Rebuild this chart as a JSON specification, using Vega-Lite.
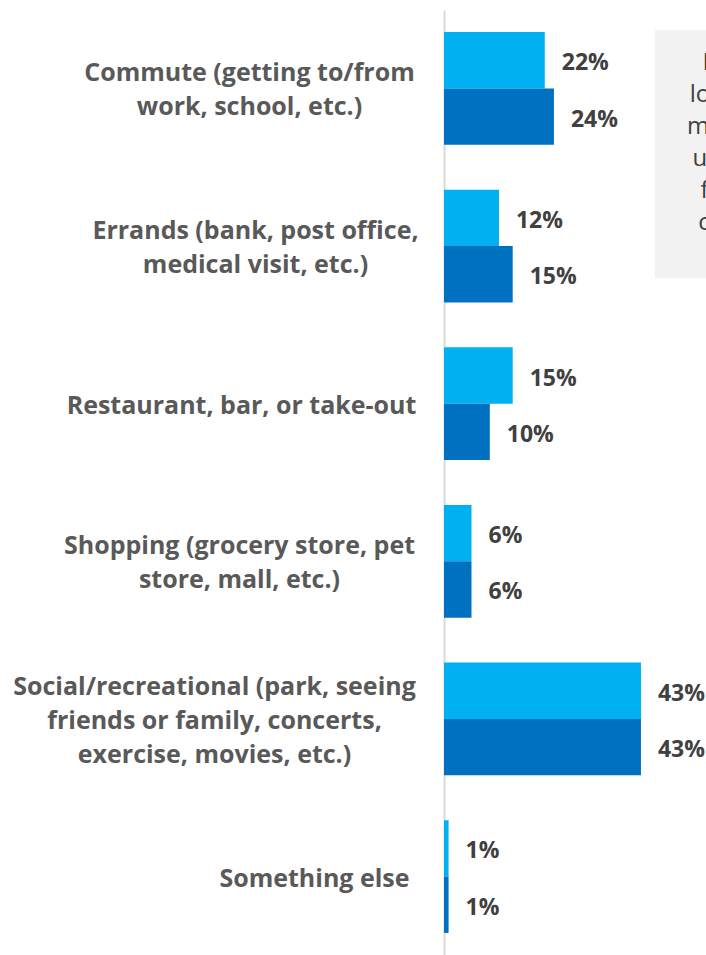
{
  "$schema": "https://vega.github.io/schema/vega-lite/v6.json",
  "width": 262,
  "height": 945,
  "autosize": "none",
  "padding": {"left": 444, "top": 10, "right": 0, "bottom": 0},
  "config": {"view": {"stroke": null}},
  "datasets": {
    "bars": [
      {"cat": "Commute (getting to/from|work, school, etc.)", "series": "Wave 1", "value": 0.22},
      {"cat": "Commute (getting to/from|work, school, etc.)", "series": "Wave 2", "value": 0.24},
      {"cat": "Errands (bank, post office,|medical visit, etc.)", "series": "Wave 1", "value": 0.12},
      {"cat": "Errands (bank, post office,|medical visit, etc.)", "series": "Wave 2", "value": 0.15},
      {"cat": "Restaurant, bar, or take-out", "series": "Wave 1", "value": 0.15},
      {"cat": "Restaurant, bar, or take-out", "series": "Wave 2", "value": 0.10},
      {"cat": "Shopping (grocery store, pet|store, mall, etc.)", "series": "Wave 1", "value": 0.06},
      {"cat": "Shopping (grocery store, pet|store, mall, etc.)", "series": "Wave 2", "value": 0.06},
      {"cat": "Social/recreational (park, seeing|friends or family, concerts,|exercise, movies, etc.)", "series": "Wave 1", "value": 0.43},
      {"cat": "Social/recreational (park, seeing|friends or family, concerts,|exercise, movies, etc.)", "series": "Wave 2", "value": 0.43},
      {"cat": "Something else", "series": "Wave 1", "value": 0.01},
      {"cat": "Something else", "series": "Wave 2", "value": 0.01}
    ],
    "note": [
      {"x": 0.4607, "x2": 0.95, "y": 0.0212, "y2": 0.2836, "tx": 0.646, "ty": 0.0561, "text": "In this,\nlocations\nmentions\nusage of\nfor any\nchoices"}
    ]
  },
  "layer": [
    {
      "data": {"name": "note"},
      "mark": {"type": "rect", "fill": "#F2F2F2"},
      "encoding": {
        "x": {"field": "x", "type": "quantitative", "scale": {"domain": [0, 0.572], "nice": false, "zero": true}, "axis": null},
        "x2": {"field": "x2"},
        "y": {"field": "y", "type": "quantitative", "scale": {"domain": [0, 1], "reverse": true, "nice": false}, "axis": null},
        "y2": {"field": "y2"}
      }
    },
    {
      "data": {"name": "note"},
      "mark": {"type": "text", "lineBreak": "\n", "font": "Open Sans", "fontSize": 24, "color": "#404040", "align": "center", "baseline": "middle", "lineHeight": 32},
      "encoding": {
        "x": {"field": "tx", "type": "quantitative", "scale": {"domain": [0, 0.572], "nice": false, "zero": true}, "axis": null},
        "y": {"field": "ty", "type": "quantitative", "scale": {"domain": [0, 1], "reverse": true, "nice": false}, "axis": null},
        "text": {"field": "text"}
      }
    },
    {
      "data": {"name": "bars"},
      "encoding": {
        "y": {
          "field": "cat",
          "type": "nominal",
          "sort": null,
          "title": null,
          "scale": {"paddingInner": 0.285, "paddingOuter": 0.14},
          "axis": {
            "labelExpr": "split(datum.label, '|')",
            "labelFont": "Open Sans",
            "labelFontWeight": "bold",
            "labelFontSize": 25,
            "labelColor": "#595959",
            "labelLineHeight": 34,
            "labelAlign": "center",
            "labelBaseline": "middle",
            "labelLimit": 0,
            "labelOverlap": false,
            "ticks": false,
            "tickSize": 0,
            "grid": false,
            "domainColor": "#D9D9D9",
            "domainWidth": 2,
            "labelPadding": {
              "condition": [
                {"test": "indexof(datum.value, 'Commute') === 0", "value": 195},
                {"test": "indexof(datum.value, 'Errands') === 0", "value": 189},
                {"test": "indexof(datum.value, 'Restaurant') === 0", "value": 203},
                {"test": "indexof(datum.value, 'Shopping') === 0", "value": 205},
                {"test": "indexof(datum.value, 'Social') === 0", "value": 230}
              ],
              "value": 130
            },
            "labelOffset": {
              "condition": [
                {"test": "indexof(datum.value, 'Social') === 0", "value": -32},
                {"test": "indexof(datum.value, '|') >= 0", "value": -15}
              ],
              "value": 2
            }
          }
        },
        "x": {"field": "value", "type": "quantitative", "scale": {"domain": [0, 0.572], "nice": false, "zero": true}, "axis": null},
        "yOffset": {"field": "series", "type": "nominal", "sort": ["Wave 1", "Wave 2"], "scale": {"paddingInner": 0, "paddingOuter": 0}}
      },
      "layer": [
        {
          "mark": {"type": "bar"},
          "encoding": {
            "color": {"field": "series", "type": "nominal", "scale": {"domain": ["Wave 1", "Wave 2"], "range": ["#00B0F0", "#0070C0"]}, "legend": null}
          }
        },
        {
          "mark": {"type": "text", "align": "left", "baseline": "middle", "dx": 17, "dy": 3, "font": "Open Sans", "fontWeight": "bold", "fontSize": 23, "color": "#404040"},
          "encoding": {
            "text": {"field": "value", "type": "quantitative", "format": ".0%"}
          }
        }
      ]
    }
  ],
  "resolve": {"scale": {"y": "independent"}, "axis": {"y": "independent"}}
}
